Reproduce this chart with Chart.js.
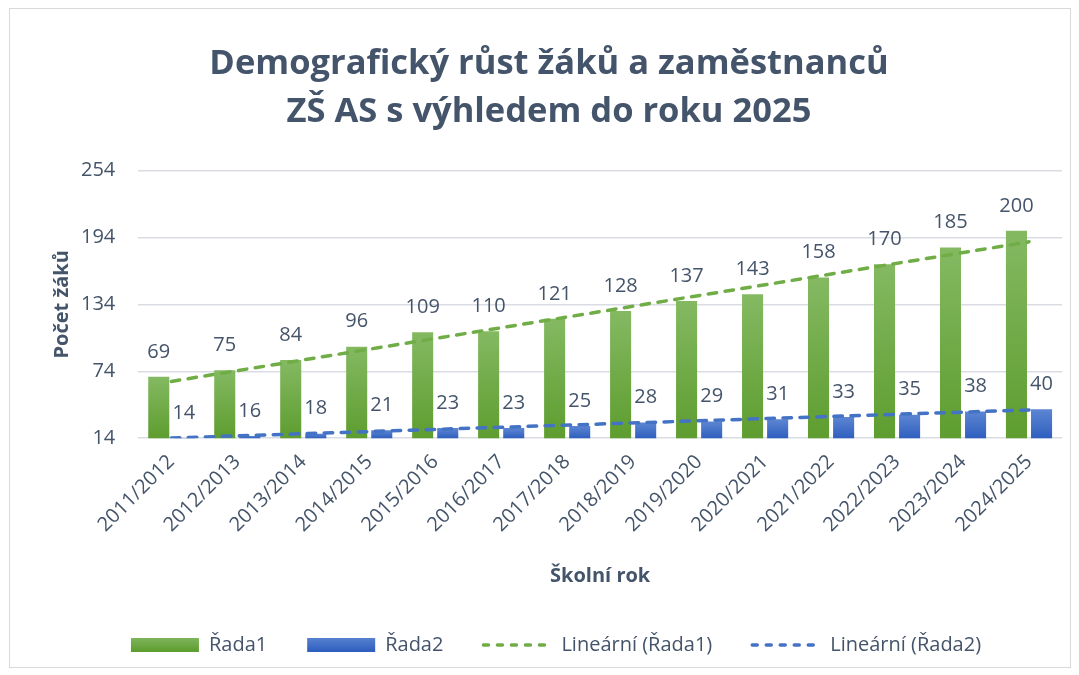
<!DOCTYPE html>
<html>
<head>
<meta charset="utf-8">
<script src="https://cdn.jsdelivr.net/npm/chart.js@4.4.1/dist/chart.umd.min.js"></script>
<style>
  body { margin: 0; background: #fff; }
  #wrap { position: relative; width: 1079px; height: 675px; }
  #frame { position: absolute; left: 9px; top: 8px; width: 1062px; height: 660px; border: 1px solid #d9d9d9; box-sizing: border-box; }
  canvas { position: absolute; left: 0; top: 0; }
</style>
</head>
<body>
<div id="wrap">
  <div id="frame"></div>
  <canvas id="c" width="1079" height="675"></canvas>
</div>
<script>
// hodnoty
const years = ['2011/2012','2012/2013','2013/2014','2014/2015','2015/2016','2016/2017','2017/2018',
               '2018/2019','2019/2020','2020/2021','2021/2022','2022/2023','2023/2024','2024/2025'];
const rada1 = [69, 75, 84, 96, 109, 110, 121, 128, 137, 143, 158, 170, 185, 200];
const rada2 = [14, 16, 18, 21, 23, 23, 25, 28, 29, 31, 33, 35, 38, 40];
// koncové body lineárních trendů (první a poslední rok)
const trend1Ends = [64.9, 190.1];
const trend2Ends = [14.1, 39.3];
const yTicks = [14, 74, 134, 194, 254];

const textColor = '#44546A';
const FONT = '"Open Sans"';

function trendSeries(ends) {
  const arr = years.map(() => null);
  arr[0] = ends[0];
  arr[arr.length - 1] = ends[1];
  return arr;
}

function barGradient(top, bottom) {
  return (c) => {
    const chart = c.chart;
    if (c.type !== 'data' || !chart.scales.y) return bottom;
    const ys = chart.scales.y;
    const y0 = ys.getPixelForValue(c.raw);
    const y1 = ys.getPixelForValue(yTicks[0]);
    if (!isFinite(y0) || !isFinite(y1) || y0 === y1) return bottom;
    const g = chart.ctx.createLinearGradient(0, y0, 0, y1);
    g.addColorStop(0, top);
    g.addColorStop(1, bottom);
    return g;
  };
}

const ctx = document.getElementById('c').getContext('2d');
function legendGrad(top, bottom) {
  const g = ctx.createLinearGradient(0, 636, 0, 651);
  g.addColorStop(0, top);
  g.addColorStop(1, bottom);
  return g;
}
const legendFills = [legendGrad('#84b962', '#5e9d2f'), legendGrad('#5d86d2', '#2f5fbf'), '#70ad47', '#4472c4'];

const valueLabels = {
  id: 'valueLabels',
  afterLayout(chart) {
    // nadpis je v originále trochu vlevo od středu
    chart.titleBlock.left -= 14;
  },
  afterDatasetsDraw(chart) {
    const c = chart.ctx;
    c.save();
    c.font = '20px ' + FONT;
    c.fillStyle = textColor;
    c.textAlign = 'center';
    c.textBaseline = 'middle';
    [0, 1].forEach(di => {
      const meta = chart.getDatasetMeta(di);
      meta.data.forEach((bar, i) => {
        c.fillText(String(chart.data.datasets[di].data[i]), bar.x, bar.y - 25);
      });
    });
    c.restore();
  }
};

new Chart(ctx, {
  type: 'bar',
  data: {
    labels: years,
    datasets: [
      { label: 'Řada1', data: rada1, backgroundColor: barGradient('#84b962', '#5e9d2f'),
        barPercentage: 0.84, categoryPercentage: 0.76, order: 2 },
      { label: 'Řada2', data: rada2, backgroundColor: barGradient('#5d86d2', '#2f5fbf'),
        barPercentage: 0.84, categoryPercentage: 0.76, order: 2 },
      { type: 'line', label: 'Lineární (Řada1)', data: trendSeries(trend1Ends), spanGaps: true,
        borderColor: '#70ad47', borderWidth: 3.5, borderDash: [8.5, 8.5], borderCapStyle: 'round',
        pointRadius: 0, fill: false, order: 0 },
      { type: 'line', label: 'Lineární (Řada2)', data: trendSeries(trend2Ends), spanGaps: true,
        borderColor: '#4472c4', borderWidth: 3.5, borderDash: [8.5, 8.5], borderCapStyle: 'round',
        pointRadius: 0, fill: false, order: 0 }
    ]
  },
  options: {
    responsive: false,
    animation: false,
    layout: { padding: { left: 50, right: 17, top: 40, bottom: 10 } },
    plugins: {
      title: {
        display: true,
        text: ['Demografický růst žáků a zaměstnanců', 'ZŠ AS s výhledem do roku 2025'],
        color: textColor,
        font: { family: FONT, size: 34.5, weight: 'bold', lineHeight: 1.4 },
        padding: { top: 0, bottom: 34 }
      },
      legend: {
        position: 'bottom',
        labels: {
          usePointStyle: true,
          pointStyleWidth: 68,
          boxHeight: 14,
          padding: 40,
          color: textColor,
          font: { family: FONT, size: 20 },
          generateLabels: (chart) => chart.data.datasets.map((ds, i) => ({
            text: ds.label,
            fillStyle: legendFills[i],
            strokeStyle: i < 2 ? 'rgba(0,0,0,0)' : ds.borderColor,
            lineWidth: i < 2 ? 0 : 3.5,
            lineDash: i < 2 ? [] : [5, 9],
            lineCap: 'round',
            pointStyle: i < 2 ? 'rect' : 'line',
            fontColor: textColor,
            hidden: false,
            datasetIndex: i
          }))
        }
      },
      tooltip: { enabled: false }
    },
    scales: {
      x: {
        grid: { display: false },
        border: { display: false },
        ticks: { color: textColor, font: { family: FONT, size: 20 }, maxRotation: 45, minRotation: 45, padding: 4 },
        title: { display: true, text: 'Školní rok', color: textColor,
                 font: { family: FONT, size: 20, weight: 'bold' }, padding: { top: 23, bottom: 7 } }
      },
      y: {
        min: 14, max: 254,
        afterBuildTicks: (axis) => { axis.ticks = yTicks.map(v => ({ value: v })); },
        // Chart.js počítá odsazení popisků dvakrát, jedno ubereme
        afterFit: (axis) => { axis.width -= axis.options.ticks.padding; },
        grid: { color: '#d9dde3', lineWidth: 1.5, drawTicks: false },
        border: { display: false },
        ticks: { color: textColor, font: { family: FONT, size: 20 }, padding: 23 },
        title: { display: true, text: 'Počet žáků', color: textColor,
                 font: { family: FONT, size: 20, weight: 'bold' }, padding: { top: 0, bottom: 7 } }
      }
    }
  },
  plugins: [valueLabels]
});
</script>
</body>
</html>
